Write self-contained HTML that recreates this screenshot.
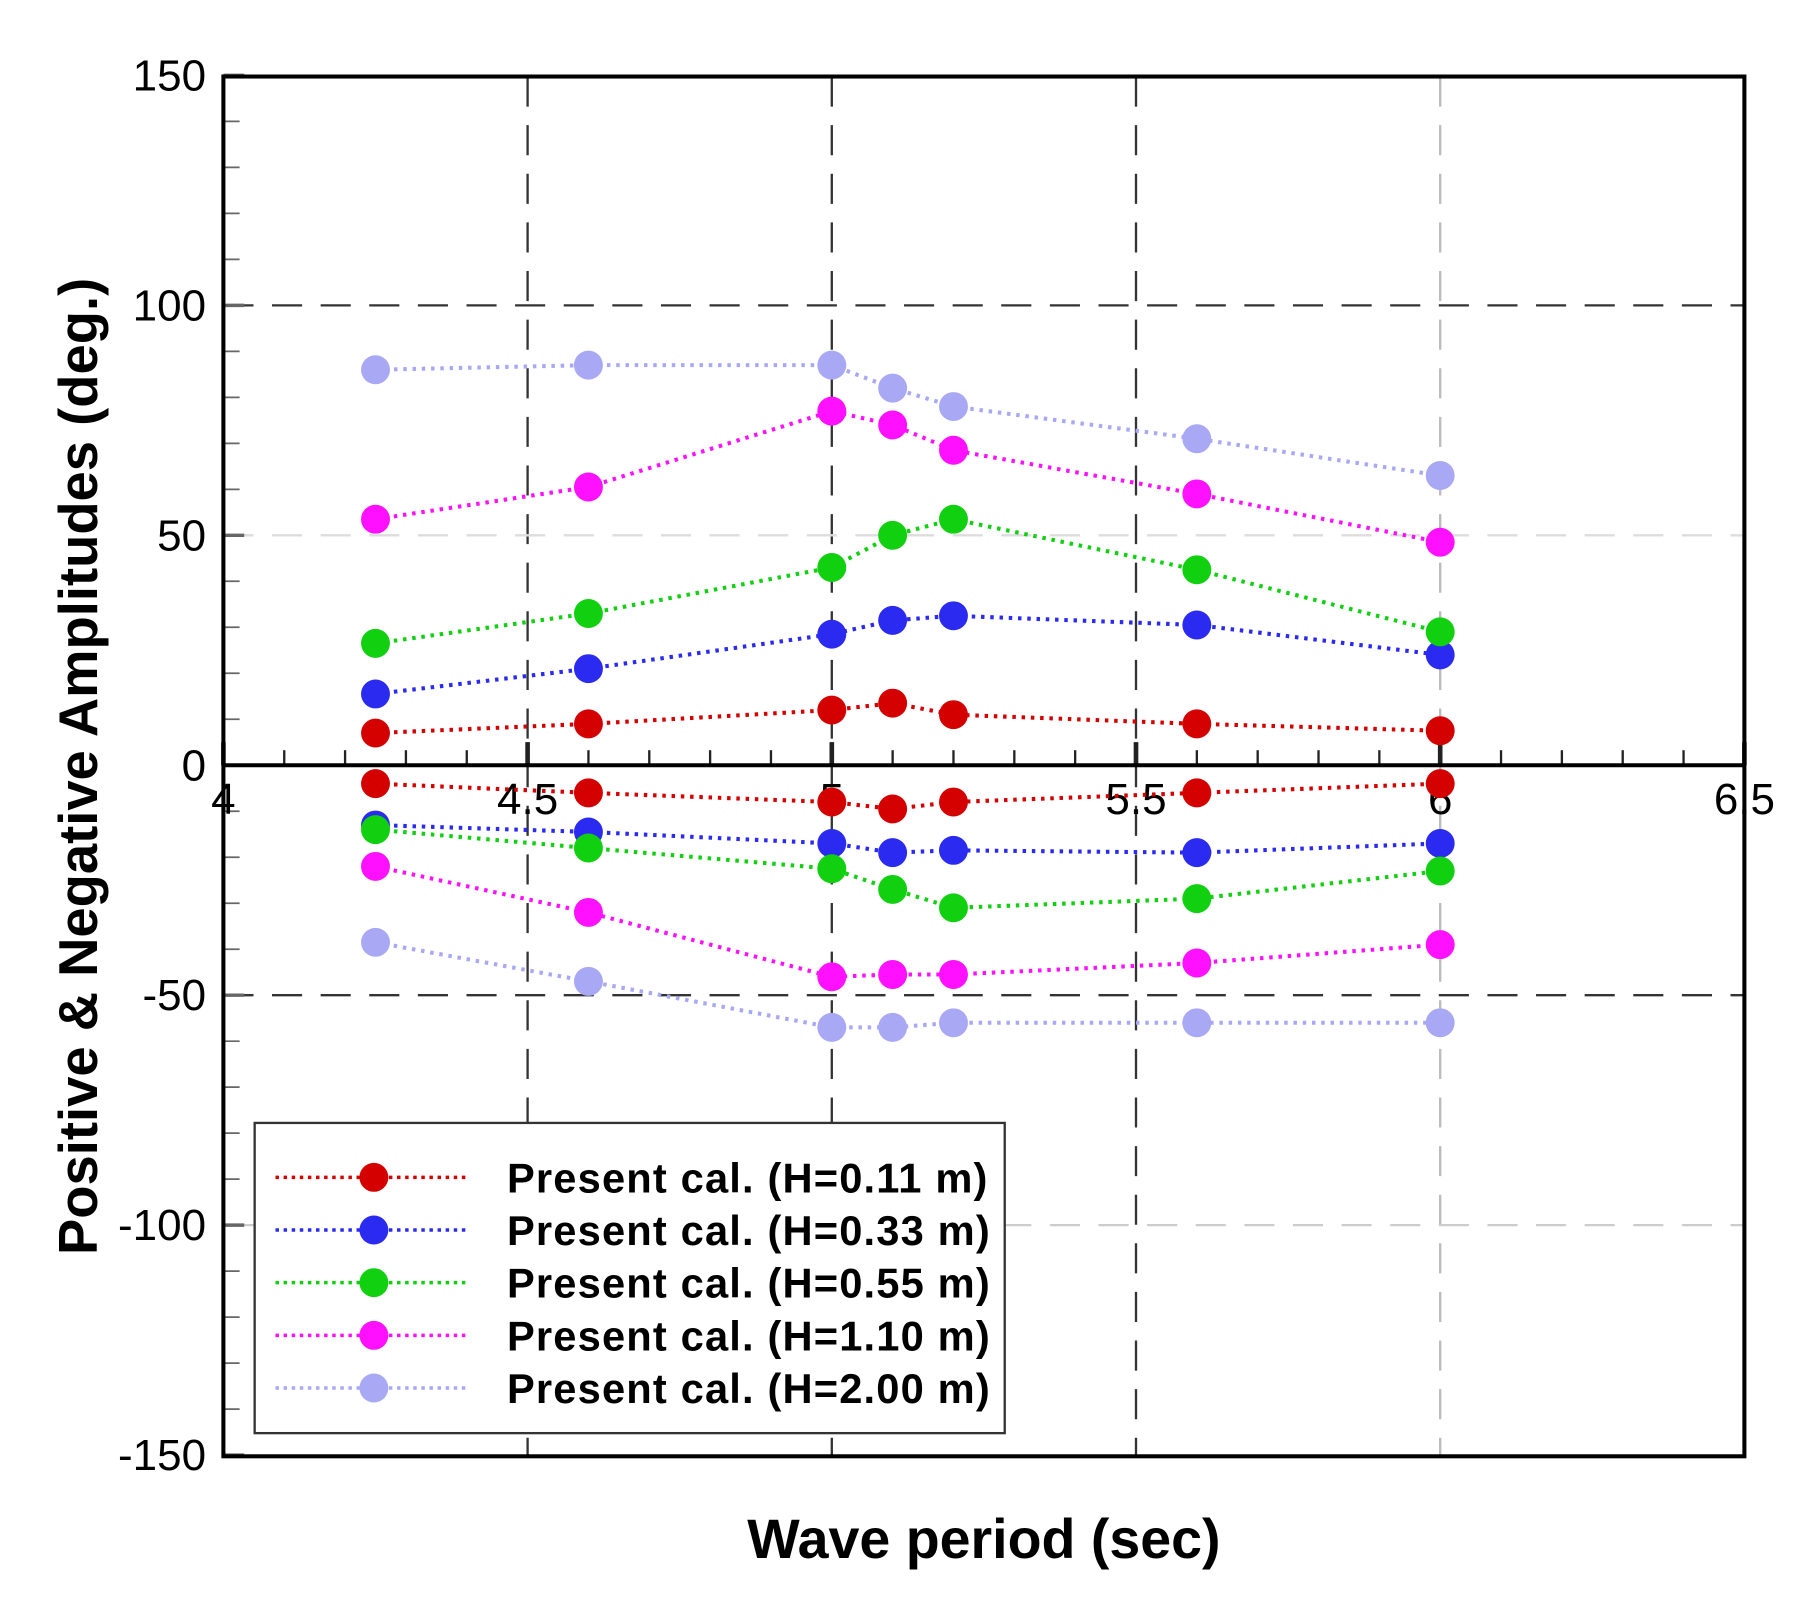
<!DOCTYPE html>
<html><head><meta charset="utf-8"><style>html,body{margin:0;padding:0;background:#fff}svg{display:block}</style></head>
<body>
<svg id="s" xmlns="http://www.w3.org/2000/svg" width="1815" height="1615" viewBox="0 0 1568 1395" font-family="Liberation Sans, sans-serif"></svg>
<script>
const s=document.getElementById('s');
const X=t=>193+(t-4)*525.6, Y=v=>661-v*3.973;
let h='<rect width="1568" height="1395" fill="#fff"/>';
[[4.5,'#333'],[5,'#333'],[5.5,'#333'],[6,'#bbb']].forEach(([t,c])=>{h+=`<line x1="${X(t)}" y1="66" x2="${X(t)}" y2="1258" stroke="${c}" stroke-width="2" stroke-dasharray="26,16"/>`;});
[[100,'#333'],[-50,'#333'],[50,'#ddd'],[-100,'#ccc']].forEach(([v,c])=>{h+=`<line x1="193" y1="${Y(v)}" x2="1507" y2="${Y(v)}" stroke="${c}" stroke-width="2" stroke-dasharray="26,16"/>`;});
for(let v=-150;v<=150;v+=10){const maj=v%50==0;h+=`<line x1="193" y1="${Y(v)}" x2="${193+(maj?18:14)}" y2="${Y(v)}" stroke="#666" stroke-width="${maj?3:1.5}"/>`;}
for(let i=0;i<=25;i++){const t=4+i*0.1;const maj=i%5==0;h+=`<line x1="${X(t)}" y1="661" x2="${X(t)}" y2="${661-(maj?20:13)}" stroke="#222" stroke-width="${maj?4:2}"/>`;}
h+=`<rect x="193" y="66" width="1314" height="1192" fill="none" stroke="#000" stroke-width="3.5"/>`;
h+=`<line x1="193" y1="661" x2="1507" y2="661" stroke="#000" stroke-width="3.5"/>`;
[150,100,50,0,-50,-100,-150].forEach(v=>{h+=`<text x="178" y="${Y(v)+13}" font-size="38" text-anchor="end">${v}</text>`;});
[['4',4],['4.5',4.5],['5',5],['5.5',5.5],['6',6],['6.5',6.5]].forEach(([l,t])=>{h+=`<text x="${X(t)}" y="703" font-size="38" text-anchor="middle">${l}</text>`;});
h+=`<text x="850" y="1346" font-size="48" font-weight="bold" text-anchor="middle">Wave period (sec)</text>`;
h+=`<text transform="translate(84,662) rotate(-90)" font-size="47" font-weight="bold" text-anchor="middle">Positive &amp; Negative Amplitudes (deg.)</text>`;
const T=[4.25,4.6,5.0,5.1,5.2,5.6,6.0];
const S=[
['#d40000',[7,9,12,13.5,11,9,7.5],[-4,-6,-8,-9.5,-8,-6,-4]],
['#2a2af0',[15.5,21,28.5,31.5,32.5,30.5,24],[-13,-14.5,-17,-19,-18.5,-19,-17]],
['#10d010',[26.5,33,43,50,53.5,42.5,29],[-14,-18,-22.5,-27,-31,-29,-23]],
['#ff10ff',[53.5,60.5,77,74,68.5,59,48.5],[-22,-32,-46,-45.5,-45.5,-43,-39]],
['#a8a8f4',[86,87,87,82,78,71,63],[-38.5,-47,-57,-57,-56,-56,-56]]];
S.forEach(([c,p,n])=>{[p,n].forEach(a=>{h+=`<polyline fill="none" stroke="${c}" stroke-width="3.5" stroke-dasharray="3,5" points="${a.map((v,i)=>X(T[i])+','+Y(v)).join(' ')}"/>`;});});
S.forEach(([c,p,n])=>{[p,n].forEach(a=>{a.forEach((v,i)=>{h+=`<circle cx="${X(T[i])}" cy="${Y(v)}" r="12.5" fill="${c}"/>`;});});});
h+=`<rect x="220" y="970" width="648" height="268" fill="#fff" stroke="#333" stroke-width="2"/>`;
const L=['0.11','0.33','0.55','1.10','2.00'];
S.forEach(([c],i)=>{const y=1017+i*45.5;h+=`<line x1="238" y1="${y}" x2="405" y2="${y}" stroke="${c}" stroke-width="3" stroke-dasharray="3,4"/><circle cx="323" cy="${y}" r="12.5" fill="${c}"/><text x="438" y="${y+13}" font-size="36" font-weight="bold" letter-spacing="1">Present cal. (H=${L[i]} m)</text>`;});
s.innerHTML=h;
</script>
</body></html>
